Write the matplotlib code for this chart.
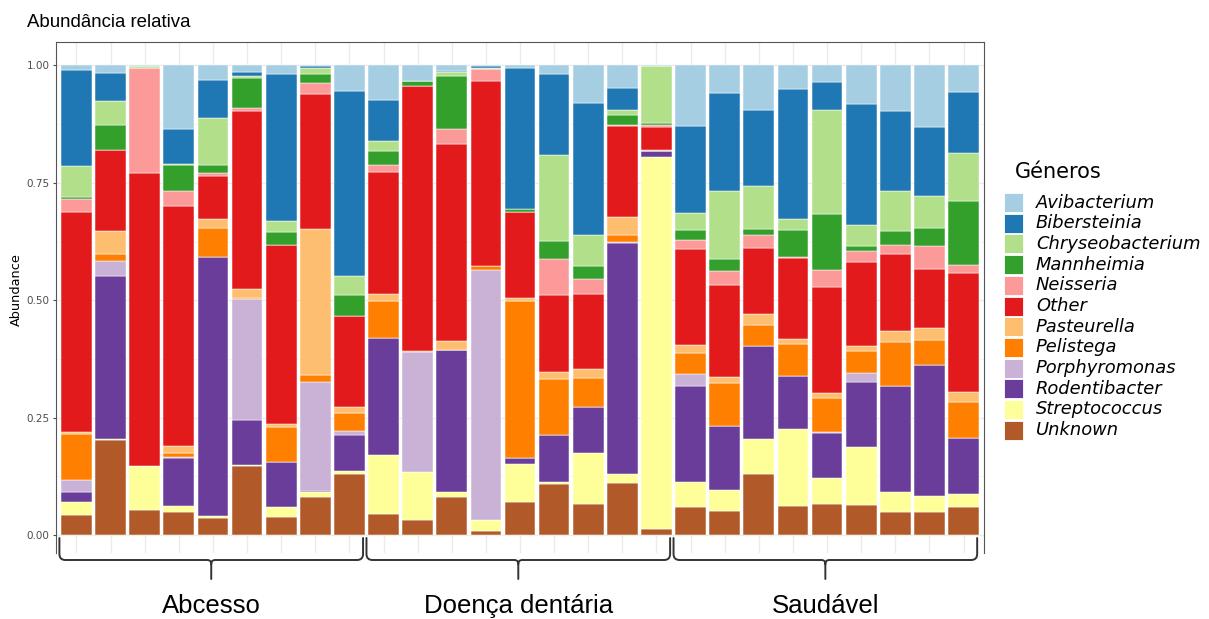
import numpy as np
import matplotlib
matplotlib.use("Agg")
import matplotlib.pyplot as plt
from matplotlib.path import Path
from matplotlib.patches import PathPatch, Rectangle

# ---------------- data ----------------
groups = ["Abcesso", "Doença dentária", "Saudável"]
bars_per_group = 9

genera = ["Unknown", "Streptococcus", "Rodentibacter", "Porphyromonas", "Pelistega",
          "Pasteurella", "Other", "Neisseria", "Mannheimia", "Chryseobacterium",
          "Bibersteinia", "Avibacterium"]   # stacking order, bottom to top

colors = {
    "Avibacterium": "#A6CEE3", "Bibersteinia": "#1F78B4", "Chryseobacterium": "#B2DF8A",
    "Mannheimia": "#33A02C", "Neisseria": "#FB9A99", "Other": "#E31A1C",
    "Pasteurella": "#FDBF6F", "Pelistega": "#FF7F00", "Porphyromonas": "#CAB2D6",
    "Rodentibacter": "#6A3D9A", "Streptococcus": "#FFFF99", "Unknown": "#B15928",
}

unknown = [.043, .202, .053, .050, .037, .147, .039, .080, .131,
           .044, .033, .082, .009, .071, .109, .067, .111, .013,
           .059, .051, .131, .062, .066, .064, .050, .050, .059]
streptococcus = [.028, .002, .095, .012, .003, .002, .021, .012, .005,
                 .126, .102, .010, .023, .081, .003, .107, .018, .793,
                 .053, .045, .073, .163, .055, .124, .042, .033, .028]
rodentibacter = [.021, .348, 0, .101, .552, .096, .095, .002, .078,
                 .250, 0, .301, .001, .011, .101, .099, .492, .012,
                 .205, .137, .198, .114, .097, .138, .225, .279, .119]
porphyromonas = [.025, .031, 0, .004, 0, .257, 0, .232, .007,
                 0, .254, .001, .532, 0, 0, 0, .002, 0,
                 .026, 0, 0, 0, .002, .018, 0, 0, 0]
pelistega = [.099, .016, 0, .007, .061, .002, .075, .014, .038,
             .079, .002, 0, .007, .336, .120, .062, .017, 0,
             .045, .090, .046, .068, .071, .047, .094, .054, .078]
pasteurella = [.004, .048, 0, .016, .019, .021, .006, .311, .014,
               .015, 0, .019, 0, .005, .015, .018, .037, .003,
               .016, .014, .022, .011, .012, .011, .024, .024, .021]
other = [.469, .172, .624, .511, .093, .379, .382, .289, .194,
         .259, .565, .419, .396, .185, .164, .161, .194, .048,
         .206, .195, .141, .171, .225, .180, .163, .127, .252]
neisseria = [.026, .002, .222, .032, .005, .005, 0, .023, 0,
             .014, 0, .033, .025, 0, .075, .031, .003, .005,
             .019, .030, .029, .003, .036, .022, .020, .049, .019]
mannheimia = [.005, .053, 0, .056, .019, .064, .027, .019, .044,
              .030, .010, .112, 0, .005, .039, .028, .021, .003,
              .021, .025, .011, .057, .120, .012, .030, .038, .135]
chryseobacterium = [.065, .050, .005, .002, .100, .004, .023, .012, .040,
                    .022, 0, .009, .002, 0, .183, .067, .011, .121,
                    .036, .145, .092, .023, .222, .044, .085, .067, .102]
bibersteinia = [.206, .060, 0, .074, .081, .010, .314, .004, .394,
                .087, 0, .003, .003, .300, .172, .281, .046, .001,
                .186, .209, .163, .278, .059, .258, .170, .149, .130]
avibacterium = [.009, .016, .001, .135, .030, .013, .018, .002, .055,
                .074, .035, .011, .002, .006, .019, .079, .048, .001,
                .128, .059, .094, .050, .035, .082, .097, .130, .057]

series = [unknown, streptococcus, rodentibacter, porphyromonas, pelistega, pasteurella,
          other, neisseria, mannheimia, chryseobacterium, bibersteinia, avibacterium]

ytick_vals = [0, 0.25, 0.5, 0.75, 1.0]
ytick_labels = ["0.00", "0.25", "0.50", "0.75", "1.00"]

# ---------------- figure ----------------
W, H = 1209, 619
fig = plt.figure(figsize=(W / 100, H / 100), dpi=100)
fig.patch.set_facecolor("white")

ax = fig.add_axes([56 / W, 1 - 553 / H, (984 - 56) / W, (553 - 42) / H])
n = len(unknown)
x = np.arange(n)
bottom = np.zeros(n)
for name, vals in zip(genera, series):
    vals = np.asarray(vals, dtype=float)
    ax.bar(x, vals, bottom=bottom, width=0.9, color=colors[name],
           edgecolor="white", linewidth=0.35, zorder=2)
    bottom += vals

ax.set_xlim(-0.6, n - 0.4)
ax.set_ylim(-0.0383, 1.05)
ax.set_yticks(ytick_vals)
ax.set_yticklabels(ytick_labels)
ax.set_yticks([0.125, 0.375, 0.625, 0.875], minor=True)
ax.set_xticks(x)
ax.set_xticklabels([])
ax.tick_params(axis="x", length=0)
ax.tick_params(axis="y", which="major", length=2.5, width=0.8, color="#4d4d4d",
               labelsize=7.5, labelcolor="#4d4d4d", pad=2.2)
ax.tick_params(axis="y", which="minor", length=0)
ax.grid(which="major", color="#ebebeb", linewidth=1.0, zorder=0)
ax.grid(which="minor", axis="y", color="#f2f2f2", linewidth=0.5, zorder=0)
ax.set_axisbelow(True)
for s in ["left", "top", "right"]:
    ax.spines[s].set_color("#555555")
    ax.spines[s].set_linewidth(0.8)
ax.spines["bottom"].set_visible(False)

# ---------------- overlay (pixel coords, y from top) ----------------
ov = fig.add_axes([0, 0, 1, 1], facecolor="none")
ov.set_xlim(0, W)
ov.set_ylim(H, 0)
ov.axis("off")

def to_px(xd):
    return ax.transData.transform((xd, 0))[0]

def brace(xl, xr, y0=538, y1=560, y2=579, r=6, rt=4):
    xm = 0.5 * (xl + xr)
    verts = [(xl, y0), (xl, y1 - r), (xl, y1), (xl + r, y1), (xm - rt, y1),
             (xm, y1), (xm, y1 + rt), (xm, y2),
             (xm, y1 + rt), (xm, y1), (xm + rt, y1), (xr - r, y1), (xr, y1), (xr, y1 - r), (xr, y0)]
    codes = [Path.MOVETO, Path.LINETO, Path.CURVE3, Path.CURVE3, Path.LINETO,
             Path.CURVE3, Path.CURVE3, Path.LINETO,
             Path.MOVETO, Path.CURVE3, Path.CURVE3, Path.LINETO, Path.CURVE3, Path.CURVE3, Path.LINETO]
    ov.add_patch(PathPatch(Path(verts, codes), facecolor="none", edgecolor="#333333",
                           linewidth=1.4, capstyle="round", joinstyle="round"))
    return xm

for g, gname in enumerate(groups):
    i0 = g * bars_per_group
    i1 = i0 + bars_per_group - 1
    xm = brace(to_px(i0 - 0.5), to_px(i1 + 0.4))
    ov.text(xm, 606, gname, ha="center", va="center", fontsize=18.5,
            family="Liberation Sans", color="black")

# title and axis label
ov.text(27, 27, "Abundância relativa", ha="left", va="baseline", fontsize=13.4,
        family="Liberation Sans", color="black")
ov.text(16, 290, "Abundance", ha="center", va="center", rotation=90,
        fontsize=9.3, family="DejaVu Sans", color="black")

# legend
ov.text(1015, 172, "Géneros", ha="left", va="center", fontsize=15,
        family="DejaVu Sans", color="black")
legend_order = sorted(genera)
for k, name in enumerate(legend_order):
    top = 193 + k * 20.7
    ov.add_patch(Rectangle((1004, top), 19, 19, facecolor=colors[name],
                           edgecolor="white", linewidth=0.6))
    ov.text(1036, top + 9.5, name, ha="left", va="center", fontsize=12.9,
            style="italic", family="DejaVu Sans", color="black")

fig.savefig("out.png", dpi=100)
